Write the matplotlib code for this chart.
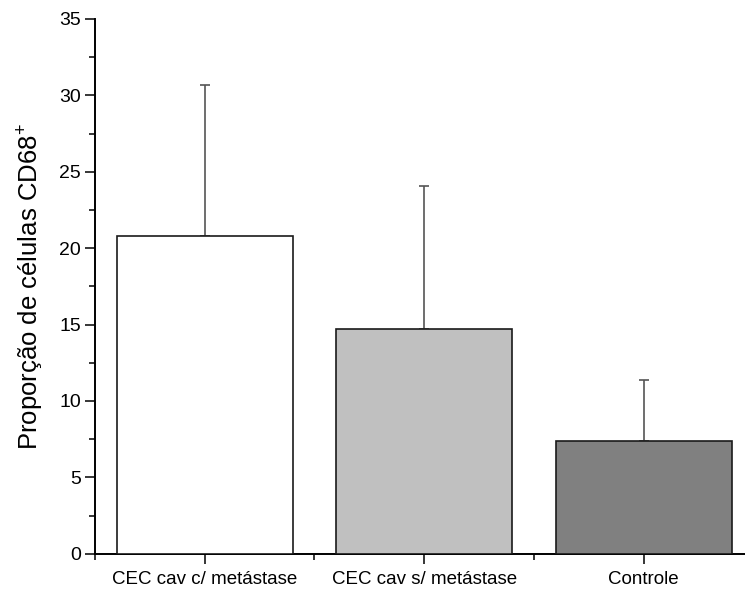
import matplotlib
matplotlib.use('Agg')
import matplotlib.pyplot as plt
from matplotlib.ticker import MultipleLocator, FixedLocator

plt.rcParams['font.family'] = ['Liberation Sans', 'DejaVu Sans']
plt.rcParams['mathtext.fontset'] = 'custom'
plt.rcParams['mathtext.rm'] = 'Liberation Sans'

categories = ['CEC cav c/ metástase', 'CEC cav s/ metástase', 'Controle']
means = [20.8, 14.7, 7.4]
errors = [9.9, 9.4, 4.0]
colors = ['#ffffff', '#c0c0c0', '#808080']

x = [1, 2, 3]

fig = plt.figure(figsize=(7.45, 5.92), dpi=100)
ax = fig.add_axes([0.1275, 0.0645, 0.8725, 0.9035])

ax.bar(x, means, width=0.8, color=colors, edgecolor='#1a1a1a', linewidth=1.2, zorder=3)
ax.errorbar(x, means, yerr=[[0, 0, 0], errors], fmt='none', ecolor='#555555',
            elinewidth=1.2, capsize=3.6, capthick=1.2, zorder=2)

ax.set_xlim(0.5, 0.5 + 650 / 219.5)
ax.set_ylim(0, 35)

ax.spines['top'].set_visible(False)
ax.spines['right'].set_visible(False)
ax.spines['left'].set_linewidth(1.4)
ax.spines['bottom'].set_linewidth(1.4)

ax.xaxis.set_major_locator(FixedLocator(x))
ax.xaxis.set_minor_locator(FixedLocator([0.5, 1.5, 2.5]))
ax.set_xticklabels(categories, fontsize=13.5)
ax.yaxis.set_major_locator(MultipleLocator(5))
ax.yaxis.set_minor_locator(MultipleLocator(2.5))

ax.tick_params(axis='both', which='major', length=7.2, width=1.1, direction='out')
ax.tick_params(axis='both', which='minor', length=4.2, width=1.1, direction='out')
ax.tick_params(axis='y', labelsize=14, pad=3)
ax.tick_params(axis='x', pad=5)

ax.set_ylabel('Proporção de células CD68$^{+}$', fontsize=18.5, labelpad=10)

fig.savefig('out.png', dpi=100)
